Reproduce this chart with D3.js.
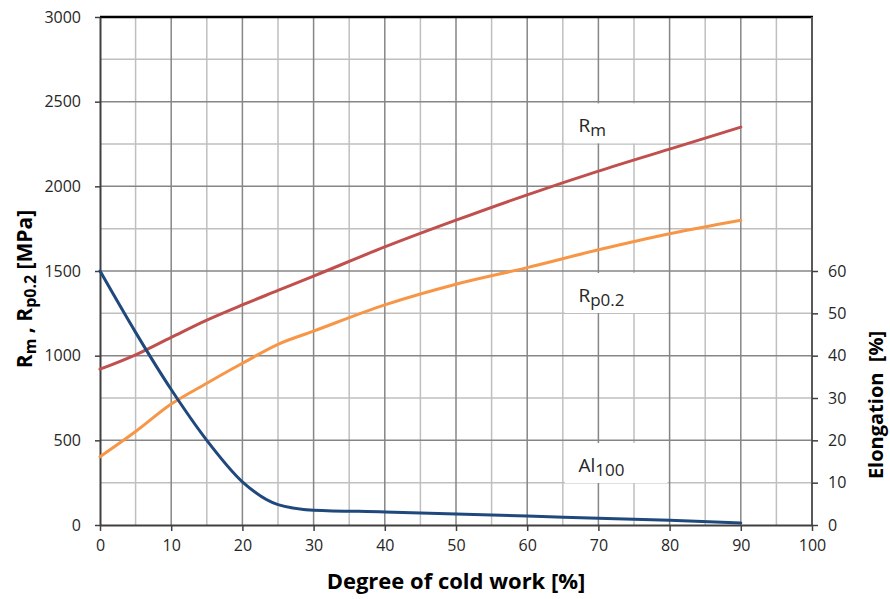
<!DOCTYPE html>
<html>
<head>
<meta charset="utf-8">
<script src="https://cdn.jsdelivr.net/npm/d3@7"></script>
<style>
  body { margin: 0; background: #fff; }
  svg { font-family: "Open Sans", sans-serif; }
</style>
</head>
<body>
<svg width="890" height="599"></svg>
<script>
// данные
const coldWork = [0, 5, 10, 15, 20, 25, 30, 40, 50, 60, 70, 80, 90];
const rm = [920, 1005, 1108, 1210, 1300, 1385, 1470, 1642, 1800, 1950, 2090, 2220, 2350];
const rp02 = [403, 552, 714, 837, 955, 1067, 1145, 1300, 1422, 1520, 1625, 1720, 1800];
const elongation = [60, 45.5, 32, 20, 10.2, 4.8, 3.5, 3.1, 2.6, 2.1, 1.6, 1.1, 0.5];

const xTicks = [0, 10, 20, 30, 40, 50, 60, 70, 80, 90, 100];
const yTicks = [0, 500, 1000, 1500, 2000, 2500, 3000];
const y2Ticks = [0, 10, 20, 30, 40, 50, 60];

const svg = d3.select("svg");

const area = { left: 100, right: 812, top: 17, bottom: 525 };

const scX = d3.scaleLinear().domain([0, 100]).range([area.left, area.right]);
const scY = d3.scaleLinear().domain([0, 3000]).range([area.bottom, area.top]);
const scY2 = d3.scaleLinear().domain([0, 120]).range([area.bottom, area.top]);

// сетка: светлые линии через 5 / 250, тёмные через 10 / 500
const grid = svg.append("g");
d3.range(5, 100, 10).forEach(v => {
  grid.append("line")
    .attr("x1", scX(v)).attr("x2", scX(v))
    .attr("y1", area.top).attr("y2", area.bottom)
    .attr("stroke", "#bfbfbf").attr("stroke-width", 1.5);
});
d3.range(250, 3000, 500).forEach(v => {
  grid.append("line")
    .attr("x1", area.left).attr("x2", area.right)
    .attr("y1", scY(v)).attr("y2", scY(v))
    .attr("stroke", "#bfbfbf").attr("stroke-width", 1.5);
});
xTicks.slice(1, -1).forEach(v => {
  grid.append("line")
    .attr("x1", scX(v)).attr("x2", scX(v))
    .attr("y1", area.top).attr("y2", area.bottom)
    .attr("stroke", "#868686").attr("stroke-width", 1.5);
});
yTicks.slice(1, -1).forEach(v => {
  grid.append("line")
    .attr("x1", area.left).attr("x2", area.right)
    .attr("y1", scY(v)).attr("y2", scY(v))
    .attr("stroke", "#868686").attr("stroke-width", 1.5);
});

// рамка: верх чёрный, справа тёмно-серая
svg.append("line")
  .attr("x1", area.left).attr("x2", area.right + 1)
  .attr("y1", area.top).attr("y2", area.top)
  .attr("stroke", "#000").attr("stroke-width", 2.5);
svg.append("line")
  .attr("x1", area.right).attr("x2", area.right)
  .attr("y1", area.top).attr("y2", area.bottom)
  .attr("stroke", "#595959").attr("stroke-width", 2);

// оси
function styleAxis(g) {
  g.selectAll("path").attr("stroke", "#404040").attr("stroke-width", 2);
  g.selectAll("line").attr("stroke", "#404040").attr("stroke-width", 1.5);
  g.selectAll("text").attr("fill", "#262626").style("font-size", "16px")
    .style("font-family", "'Open Sans', sans-serif");
}

svg.append("g")
  .attr("transform", `translate(0, ${area.bottom})`)
  .call(d3.axisBottom(scX).tickValues(xTicks).tickFormat(d3.format("d"))
    .tickSize(6).tickPadding(9).tickSizeOuter(0))
  .call(styleAxis);

svg.append("g")
  .attr("transform", `translate(${area.left}, 0)`)
  .call(d3.axisLeft(scY).tickValues(yTicks).tickFormat(d3.format("d"))
    .tickSize(5).tickPadding(14).tickSizeOuter(0))
  .call(styleAxis);

svg.append("g")
  .attr("transform", `translate(${area.right}, 0)`)
  .call(d3.axisRight(scY2).tickValues(y2Ticks).tickFormat(d3.format("d"))
    .tickSize(6).tickPadding(10).tickSizeOuter(0))
  .call(g => g.select("path").remove())
  .call(styleAxis);

// кривые
function createChart(values, scaleY, color) {
  const line = d3.line()
    .x((d, i) => scX(coldWork[i]))
    .y(d => scaleY(d))
    .curve(d3.curveMonotoneX);
  svg.append("path")
    .datum(values)
    .attr("d", line)
    .attr("fill", "none")
    .attr("stroke", color)
    .attr("stroke-width", 3)
    .attr("stroke-linecap", "round");
}

createChart(rm, scY, "#c0504d");
createChart(rp02, scY, "#f79646");
createChart(elongation, scY2, "#1f497d");

// подписи рядов на белом фоне
const labels = [
  { main: "R", sub: "m", y: 2372 },
  { main: "R", sub: "p0.2", y: 1370 },
  { main: "Al", sub: "100", y: 366 }
];

labels.forEach(l => {
  const cy = scY(l.y);
  svg.append("rect")
    .attr("x", scX(65.3)).attr("y", cy - 20)
    .attr("width", scX(79.7) - scX(65.3)).attr("height", 40)
    .attr("fill", "#fff");
  const t = svg.append("text")
    .attr("x", scX(67.2)).attr("y", cy + 9)
    .attr("fill", "#262626")
    .style("font-size", "19px");
  t.append("tspan").text(l.main);
  t.append("tspan").attr("dy", 4).style("font-size", "17px").text(l.sub);
});

// заголовки осей
svg.append("text")
  .attr("x", (area.left + area.right) / 2)
  .attr("y", 589)
  .attr("text-anchor", "middle")
  .attr("fill", "#000")
  .style("font-size", "22px")
  .style("font-weight", "bold")
  .text("Degree of cold work [%]");

const leftTitle = svg.append("text")
  .attr("transform", "translate(32, 289) rotate(-90)")
  .attr("text-anchor", "middle")
  .attr("fill", "#000")
  .style("font-size", "21px")
  .style("font-weight", "bold");
leftTitle.append("tspan").text("R");
leftTitle.append("tspan").attr("dy", 4).style("font-size", "16px").text("m");
leftTitle.append("tspan").attr("dy", -4).text(" , R");
leftTitle.append("tspan").attr("dy", 4).style("font-size", "16px").text("p0.2");
leftTitle.append("tspan").attr("dy", -4).text(" [MPa]");

svg.append("text")
  .attr("transform", "translate(883, 405) rotate(-90)")
  .attr("text-anchor", "middle")
  .attr("fill", "#000")
  .style("font-size", "20px")
  .style("font-weight", "bold")
  .style("white-space", "pre")
  .text("Elongation  [%]");
</script>
</body>
</html>
